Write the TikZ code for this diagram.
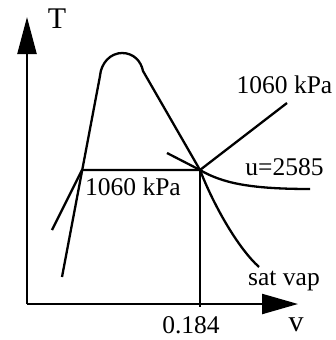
\documentclass[tikz,border=0pt]{standalone}
\usepackage{fontspec}
\setmainfont{Liberation Serif}
\usetikzlibrary{arrows.meta}

\begin{document}
\begin{tikzpicture}[x=1pt, y=-1pt, line width=2.3pt, line join=round,
  lbl/.style={inner sep=0pt, anchor=base, font=\fontsize{25.5}{25.5}\selectfont},
  axlbl/.style={inner sep=0pt, anchor=base, font=\fontsize{30}{30}\selectfont}]
\useasboundingbox (0,0) rectangle (336,340);

% ---- key points ------------------------------------------------------------
\coordinate (O)     at (27,304);
\coordinate (Ttip)  at (27,17);
\coordinate (vtip)  at (298,304);
\coordinate (P)     at (200,170);
\coordinate (Pfoot) at (200,307);
\coordinate (Lsat)  at (82,170);
\coordinate (Lbot)  at (62,277);
\coordinate (Ltop)  at (100,76);
\coordinate (Dtop)  at (122,53);
\coordinate (Dend)  at (143,71);
\coordinate (Gend)  at (259,267);
\coordinate (Cliq)  at (52,230);
\coordinate (Pup)   at (287,103);
\coordinate (Ustart) at (167,153);
\coordinate (Uend)  at (310,189);

% ---- axes ------------------------------------------------------------------
\draw[-{Triangle[length=37pt,width=19pt]}] (O) -- (Ttip);
\draw[-{Triangle[length=36pt,width=20pt]}] (O) -- (vtip);
\node[axlbl] (T) at (57,28) {T};
\node[axlbl] (v) at (296,331) {v};
\node[lbl] (vval) at (191,333) {0.184};

% ---- saturation dome -------------------------------------------------------
\draw (Lbot) -- (Ltop) .. controls (101,63) and (110.5,53) .. (Dtop)
  .. controls (133.5,53) and (141,61) .. (Dend) -- (P)
  .. controls (214,206) and (238,248) .. (Gend);

% ---- 1060 kPa isobar -------------------------------------------------------
\draw (Cliq) -- (Lsat) -- (P) -- (Pup);
\draw (P) -- (Pfoot);

% ---- u = const -------------------------------------------------------------
\draw (Ustart) -- (P) .. controls (222,183) and (250,189) .. (Uend);

% ---- labels ----------------------------------------------------------------
\node[lbl] (pup)  at (284.5,93) {1060 kPa};
\node[lbl] (plow) at (133,195) {1060 kPa};
\node[lbl] (u)    at (284.5,175) {u=2585};
\node[lbl] (sat)  at (284,285) {sat vap};

\end{tikzpicture}
\end{document}
